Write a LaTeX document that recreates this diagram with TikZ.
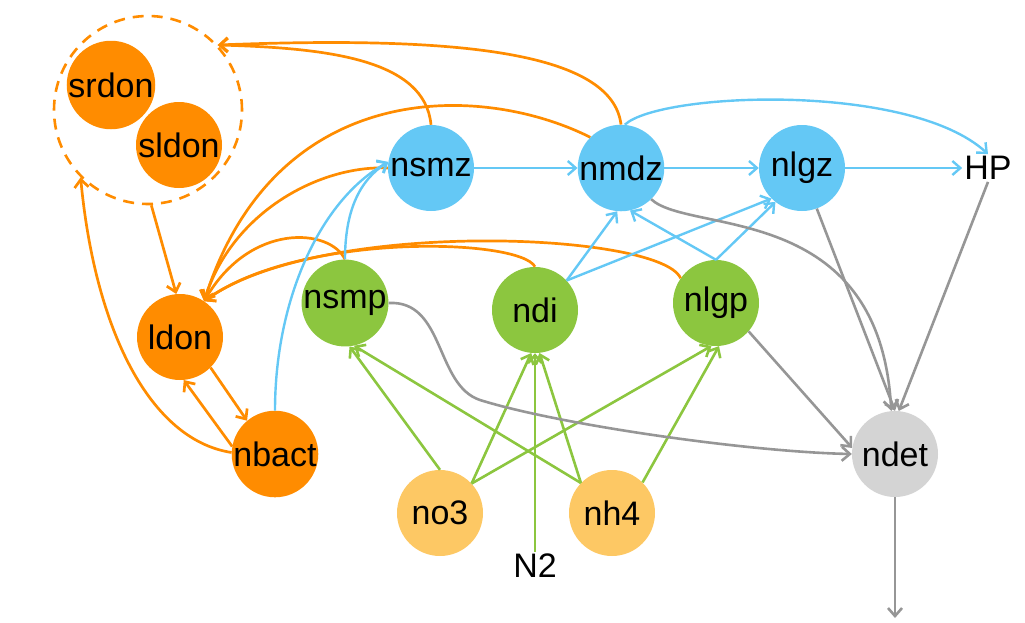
\documentclass[tikz,border=0pt]{standalone}
\usepackage{fontspec}
\setmainfont{Liberation Sans}
\usetikzlibrary{arrows.meta}
\definecolor{corange}{RGB}{255,140,0}
\definecolor{cblue}{RGB}{100,200,245}
\definecolor{cgreen}{RGB}{140,198,63}
\definecolor{cyellow}{RGB}{253,200,100}
\definecolor{cgrayn}{RGB}{212,212,212}
\definecolor{cgraye}{RGB}{150,150,150}
\begin{document}
\begin{tikzpicture}[x=1pt,y=-1pt,
  every node/.style={font=\fontsize{34}{36}\selectfont},
  nd/.style={circle,minimum size=86pt,inner sep=0pt,draw=none},
  tip/.style={-{Straight Barb[length=8pt,width=14pt]}},
  oe/.style={draw=corange,line width=2.7pt,tip},
  be/.style={draw=cblue,line width=2.4pt,tip},
  ge/.style={draw=cgreen,line width=2.6pt,tip},
  ye/.style={draw=cgraye,line width=2.6pt,tip}]
\useasboundingbox (0,0) rectangle (1025,622);
% group
\node[circle,minimum size=188pt,inner sep=0pt,draw=corange,line width=2.6pt,dash pattern=on 11pt off 8pt] (dgrp) at (148,110) {};
\node[nd,fill=corange] (srdon) at (111,85) {srdon};
\node[nd,fill=corange] (sldon) at (179,145) {sldon};
\node[nd,fill=corange] (ldon) at (180,337) {ldon};
\node[nd,fill=corange] (nbact) at (275,454) {nbact};
\node[nd,fill=cblue] (nsmz) at (431,168) {nsmz};
\node[nd,fill=cblue] (nmdz) at (621,168) {nmdz};
\node[nd,fill=cblue] (nlgz) at (802,168) {nlgz};
\node[inner sep=2pt] (HP) at (988,168) {HP};
\node[nd,fill=cgreen] (nsmp) at (345,303) {nsmp};
\node[nd,fill=cgreen] (ndi) at (535,310) {ndi};
\node[nd,fill=cgreen] (nlgp) at (716,303) {nlgp};
\node[nd,fill=cyellow] (no3) at (440,513) {no3};
\node[nd,fill=cyellow] (nh4) at (612,513) {nh4};
\node[inner sep=2pt] (N2) at (535,566) {N2};
\node[nd,fill=cgrayn] (ndet) at (895,454) {ndet};
\coordinate (out) at (895,618);

% orange
\draw[oe] (nsmz.north) .. controls (425,60) and (330,48) .. (dgrp.43);
\draw[oe] (nmdz.north) .. controls (612,50) and (450,36) .. (dgrp.43);
\draw[oe] (dgrp.-88) -- (ldon.95);
\draw[oe] (ldon.-45) -- (nbact.130);
\draw[oe] (nbact.170) -- (ldon.-85);
\draw[oe] (nbact.178) .. controls (150,440) and (95,330) .. (dgrp.225);
\draw[oe] (nmdz.135) .. controls (480,82) and (275,78) .. (ldon.56);
\draw[oe] (nsmz.west) .. controls (320,165) and (232,212) .. (ldon.56);
\draw[oe] (nsmp.north) .. controls (330,228) and (250,222) .. (ldon.56);
\draw[oe] (ndi.north) .. controls (520,238) and (300,232) .. (ldon.56);
\draw[oe] (nlgp.145) .. controls (660,232) and (320,218) .. (ldon.56);

% blue
\draw[be] (nsmz) -- (nmdz);
\draw[be] (nmdz) -- (nlgz);
\draw[be] (nlgz) -- (HP);
\draw[be] (nmdz.85) .. controls (660,92) and (910,82) .. (HP.north);
\draw[be] (nbact.north) .. controls (275,300) and (320,200) .. (nsmz.172);
\draw[be] (nsmp.north) .. controls (345,210) and (360,180) .. (nsmz.172);
\draw[be] (ndi.43) -- (nmdz.-95);
\draw[be] (ndi.43) -- (nlgz.-135);
\draw[be] (nlgp.north) -- (nmdz.-78);
\draw[be] (nlgp.north) -- (nlgz.-128);

% green
\draw[ge] (no3.north) -- (nsmp.-84);
\draw[ge] (nh4.136) -- (nsmp.-78);
\draw[ge] (no3.43) -- (ndi.-95);
\draw[ge] (N2.north) -- (ndi.south);
\draw[ge] (nh4.136) -- (ndi.-84);
\draw[ge] (no3.43) -- (nlgp.-96);
\draw[ge] (nh4.45) -- (nlgp.-86);

% gray
\draw[ye] (nsmp.east) .. controls (445,300) and (435,385) .. (480,400) .. controls (560,425) and (750,452) .. (ndet.west);
\draw[ye] (nlgp.-41) -- (ndet.172);
\draw[ye] (nmdz.-46) .. controls (690,235) and (880,200) .. (ndet.95);
\draw[ye] (nlgz.-70) -- (ndet.north);
\draw[ye] (HP.south) -- (ndet.85);
\draw[ye] (ndet.south) -- (out);
\end{tikzpicture}
\end{document}
